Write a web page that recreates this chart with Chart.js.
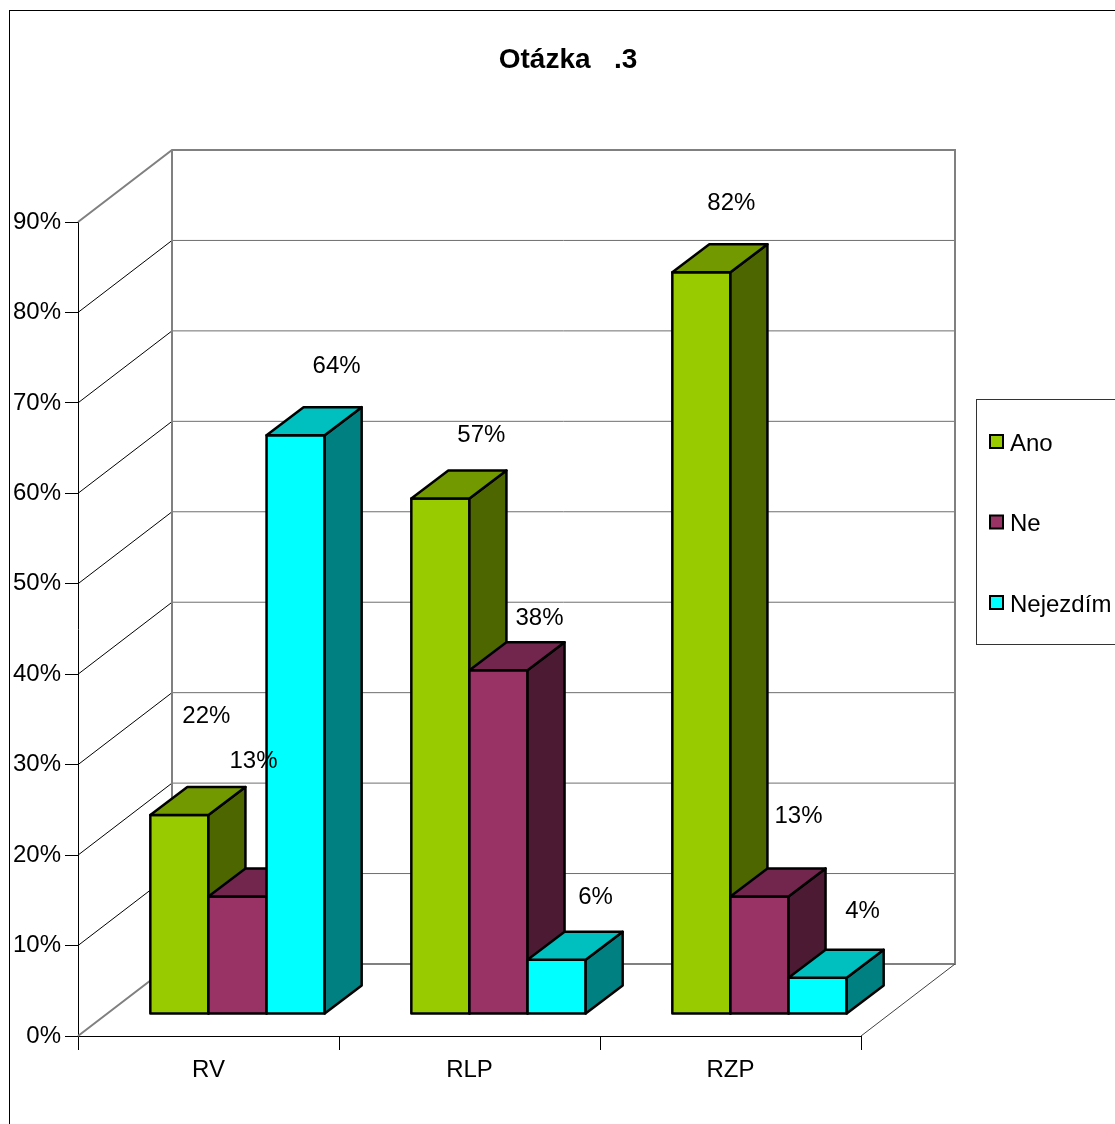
<!DOCTYPE html>
<html>
<head>
<meta charset="utf-8">
<title>Otázka .3</title>
<script src="https://cdn.jsdelivr.net/npm/chart.js@4.4.1/dist/chart.umd.min.js"></script>
<style>
  html, body { margin: 0; padding: 0; background: #fff; }
  canvas { display: block; }
</style>
</head>
<body>
<canvas id="chart" width="1115" height="1124"></canvas>
<script>
const categories = ['RV', 'RLP', 'RZP'];
const seriesNames = ['Ano', 'Ne', 'Nejezdím'];
const anoValues = [22, 57, 82];
const neValues = [13, 38, 13];
const nejezdimValues = [64, 6, 4];
const yTickValues = [0, 10, 20, 30, 40, 50, 60, 70, 80, 90];

const FONT = '"Liberation Sans", Arial, sans-serif';

// front / top / side shades of each series
const palette = [
    { front: '#99CC00', top: '#739900', side: '#4D6600' },
    { front: '#993366', top: '#73264D', side: '#4D1A33' },
    { front: '#00FFFF', top: '#00BFBF', side: '#008080' }
];

// 3D projection offsets (pixels)
const BOX = { dx: 94, dy: -72 };        // floor / wall depth
const BAR_FRONT = { dx: 29, dy: -22 };  // bars sit a bit behind the front edge
const BAR_DEPTH = { dx: 37, dy: -28 };  // thickness of a bar

// value labels: default spot above each bar, plus a few hand nudges
const LABEL_OFFSET = { dx: 40, dy: -65 };
const labelNudge = [
    [[-13, -33], [1, 3], [-10, -3]],
    [[-24, -69], [1, 14], [-1, -14]],
    [[1, -3], [-1, 4], [5, 0]]
];

function line(ctx, x1, y1, x2, y2) {
    ctx.beginPath();
    ctx.moveTo(x1, y1);
    ctx.lineTo(x2, y2);
    ctx.stroke();
}

function poly(ctx, pts, fill) {
    ctx.beginPath();
    ctx.moveTo(pts[0][0], pts[0][1]);
    for (let i = 1; i < pts.length; i++) ctx.lineTo(pts[i][0], pts[i][1]);
    ctx.closePath();
    ctx.fillStyle = fill;
    ctx.fill();
    ctx.stroke();
}

const walls3d = {
    id: 'walls3d',
    beforeDatasetsDraw(chart) {
        const { ctx, chartArea: a, scales: { y } } = chart;
        const yMin = y.getPixelForValue(y.min);
        const yMax = y.getPixelForValue(y.max);
        const bl = a.left + BOX.dx;
        const br = a.right + BOX.dx;
        ctx.save();

        // gridlines: diagonal on the side wall, flat on the back wall
        yTickValues.slice(1, -1).forEach(v => {
            const yf = y.getPixelForValue(v);
            ctx.strokeStyle = '#000';
            ctx.lineWidth = 1;
            line(ctx, a.left, yf, bl, yf + BOX.dy);
            ctx.strokeStyle = '#6e6e6e';
            line(ctx, bl, yf + BOX.dy, br, yf + BOX.dy);
        });

        // wall and floor outline
        ctx.strokeStyle = '#808080';
        ctx.lineWidth = 2;
        ctx.beginPath();
        ctx.moveTo(a.left, yMax);
        ctx.lineTo(bl, yMax + BOX.dy);
        ctx.lineTo(br, yMax + BOX.dy);
        ctx.lineTo(br, yMin + BOX.dy);
        ctx.lineTo(bl, yMin + BOX.dy);
        ctx.lineTo(a.left, yMin);
        ctx.stroke();
        line(ctx, bl, yMax + BOX.dy, bl, yMin + BOX.dy);

        ctx.strokeStyle = '#404040';
        ctx.lineWidth = 1;
        line(ctx, a.right, yMin, br, yMin + BOX.dy);
        ctx.restore();
    },
    afterDatasetsDraw(chart) {
        const { ctx } = chart;
        const metas = chart.data.datasets.map((d, i) => chart.getDatasetMeta(i));
        ctx.save();
        ctx.strokeStyle = '#000';
        ctx.lineWidth = 2.5;
        ctx.lineJoin = 'round';

        categories.forEach((c, ci) => {
            metas.forEach((meta, di) => {
                const el = meta.data[ci];
                const col = palette[di];
                const x0 = el.x - el.width / 2 + BAR_FRONT.dx;
                const x1 = el.x + el.width / 2 + BAR_FRONT.dx;
                const yt = el.y + BAR_FRONT.dy;
                const yb = el.base + BAR_FRONT.dy;
                const ddx = BAR_DEPTH.dx, ddy = BAR_DEPTH.dy;
                poly(ctx, [[x0, yt], [x1, yt], [x1, yb], [x0, yb]], col.front);
                poly(ctx, [[x1, yt], [x1 + ddx, yt + ddy], [x1 + ddx, yb + ddy], [x1, yb]], col.side);
                poly(ctx, [[x0, yt], [x0 + ddx, yt + ddy], [x1 + ddx, yt + ddy], [x1, yt]], col.top);
            });
        });

        // value labels
        ctx.fillStyle = '#000';
        ctx.font = '24px ' + FONT;
        ctx.textAlign = 'center';
        ctx.textBaseline = 'alphabetic';
        metas.forEach((meta, di) => {
            const values = chart.data.datasets[di].data;
            meta.data.forEach((el, ci) => {
                const n = labelNudge[di][ci];
                const cx = el.x + BAR_FRONT.dx + LABEL_OFFSET.dx + n[0];
                const cy = el.y + BAR_FRONT.dy + LABEL_OFFSET.dy + n[1];
                ctx.fillText(values[ci] + '%', cx, cy + 5.5);
            });
        });
        ctx.restore();
    },
    afterDraw(chart) {
        const { ctx } = chart;
        ctx.save();

        // outer frame
        ctx.strokeStyle = '#000';
        ctx.lineWidth = 1;
        ctx.strokeRect(9.5, 10.5, 1200, 1200);

        // title
        ctx.fillStyle = '#000';
        ctx.font = 'bold 28px ' + FONT;
        ctx.textAlign = 'center';
        ctx.textBaseline = 'alphabetic';
        ctx.fillText('Otázka   .3', 568, 68);

        // legend
        ctx.strokeStyle = '#333';
        ctx.lineWidth = 1;
        ctx.strokeRect(976.5, 399.5, 200, 245);
        ctx.font = '24px ' + FONT;
        ctx.textAlign = 'left';
        seriesNames.forEach((name, i) => {
            const cy = 442 + i * 80.5;
            ctx.fillStyle = palette[i].front;
            ctx.strokeStyle = '#000';
            ctx.lineWidth = 2;
            ctx.fillRect(990, cy - 7, 13, 13);
            ctx.strokeRect(990, cy - 7, 13, 13);
            ctx.fillStyle = '#000';
            ctx.fillText(name, 1010, cy + 8.5);
        });
        ctx.restore();
    }
};

const ctx = document.getElementById('chart').getContext('2d');
new Chart(ctx, {
    type: 'bar',
    data: {
        labels: categories,
        datasets: [
            { label: seriesNames[0], data: anoValues },
            { label: seriesNames[1], data: neValues },
            { label: seriesNames[2], data: nejezdimValues }
        ].map(d => Object.assign(d, {
            backgroundColor: 'rgba(0,0,0,0)',
            borderWidth: 0,
            categoryPercentage: 0.668,
            barPercentage: 1
        }))
    },
    options: {
        responsive: false,
        animation: false,
        devicePixelRatio: 1,
        layout: { padding: { top: 222, right: 254, left: 0, bottom: 0 } },
        plugins: {
            legend: { display: false },
            title: { display: false },
            tooltip: { enabled: false }
        },
        scales: {
            x: {
                afterFit(scale) { scale.height = 88; },
                grid: { offset: true, drawOnChartArea: false, drawTicks: true, tickLength: 14, color: '#000' },
                border: { display: true, color: '#000', width: 1 },
                ticks: { color: '#000', font: { family: FONT, size: 24 }, padding: 6, maxRotation: 0 }
            },
            y: {
                min: 0,
                max: 90,
                afterFit(scale) { scale.width = 78; },
                afterBuildTicks(scale) { scale.ticks = yTickValues.map(v => ({ value: v })); },
                grid: { drawOnChartArea: false, drawTicks: true, tickLength: 13, color: '#000' },
                border: { display: true, color: '#000', width: 1 },
                ticks: {
                    color: '#000',
                    font: { family: FONT, size: 24 },
                    padding: 4,
                    callback: v => v + '%'
                }
            }
        }
    },
    plugins: [walls3d]
});
</script>
</body>
</html>
